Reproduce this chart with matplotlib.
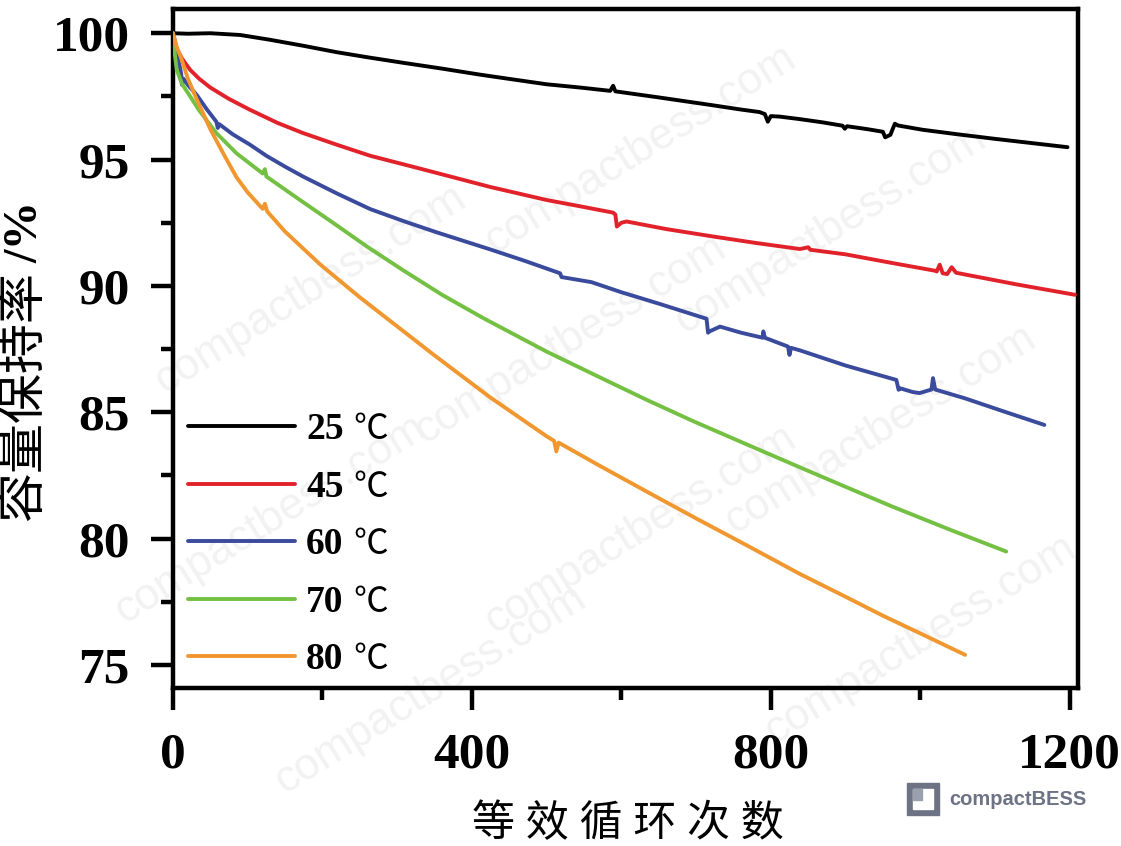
import matplotlib
matplotlib.use("Agg")
import matplotlib.pyplot as plt
from matplotlib.font_manager import FontProperties
from matplotlib.patches import Rectangle
from matplotlib.ticker import MultipleLocator

# data (cycles, capacity retention %)
c25 = [0, 20, 50, 90, 130, 175, 219, 260, 308, 360, 411, 460, 500, 545, 585, 589, 592, 650, 722, 760,
       785, 792, 796, 800, 812, 839, 870, 896, 899, 902, 930, 950, 953, 960, 966, 970, 1003, 1050, 1100,
       1150, 1197]
v25 = [100, 99.98, 100.0, 99.93, 99.74, 99.5, 99.25, 99.05, 98.83, 98.6, 98.36, 98.15, 97.98, 97.85,
       97.72, 97.92, 97.7, 97.46, 97.15, 96.98, 96.88, 96.8, 96.5, 96.72, 96.7, 96.6, 96.47, 96.34, 96.22,
       96.32, 96.2, 96.1, 95.88, 95.98, 96.42, 96.35, 96.18, 96.0, 95.82, 95.65, 95.49]

c45 = [0, 5, 12, 23, 35, 50, 75, 103, 140, 174, 220, 264, 310, 353, 424, 500, 545, 589, 592, 594, 600,
       607, 660, 722, 780, 839, 850, 853, 900, 960, 1020, 1022, 1026, 1030, 1036, 1042, 1048, 1129, 1207]
v45 = [100, 99.4, 99.0, 98.55, 98.2, 97.85, 97.4, 96.97, 96.45, 96.05, 95.58, 95.15, 94.8, 94.47, 93.92,
       93.4, 93.15, 92.9, 92.82, 92.35, 92.5, 92.55, 92.25, 91.96, 91.7, 91.46, 91.53, 91.43, 91.25, 90.92,
       90.6, 90.57, 90.84, 90.5, 90.47, 90.74, 90.52, 90.06, 89.65]

c60 = [0, 5, 9, 11, 12, 14, 20, 32, 45, 58, 60, 62, 80, 103, 125, 150, 174, 220, 264, 310, 353, 424,
       470, 518, 520, 560, 600, 650, 714, 716, 718, 732, 760, 789, 790, 792, 823, 825, 827, 839, 900,
       968, 971, 973, 990, 999, 1015, 1017, 1020, 1060, 1110, 1166]
v60 = [100, 99.2, 98.69, 98.4, 97.96, 98.2, 97.95, 97.55, 97.0, 96.5, 96.25, 96.4, 96.0, 95.59, 95.15,
       94.72, 94.33, 93.65, 93.04, 92.55, 92.12, 91.45, 91.0, 90.5, 90.35, 90.15, 89.75, 89.3, 88.7,
       88.15, 88.2, 88.39, 88.15, 87.95, 88.2, 87.95, 87.6, 87.27, 87.55, 87.45, 86.85, 86.28, 85.89,
       85.95, 85.8, 85.76, 85.9, 86.35, 85.9, 85.55, 85.05, 84.5]

c70 = [0, 2, 5, 12, 23, 35, 58, 85, 120, 123, 125, 170, 219, 260, 308, 360, 415, 500, 570, 634, 696,
       770, 839, 900, 960, 1040, 1115]
v70 = [100, 99.3, 98.55, 98.0, 97.5, 96.95, 96.05, 95.25, 94.45, 94.62, 94.33, 93.4, 92.4, 91.55, 90.62,
       89.65, 88.73, 87.4, 86.4, 85.49, 84.65, 83.7, 82.82, 82.05, 81.3, 80.35, 79.49]

c80 = [0, 5, 10, 20, 32, 50, 67, 85, 100, 120, 123, 126, 150, 197, 250, 300, 350, 424, 500, 510, 513,
       516, 570, 634, 700, 770, 839, 900, 950, 1000, 1060]
v80 = [100, 99.45, 99.1, 98.2, 97.37, 96.2, 95.26, 94.3, 93.7, 93.05, 93.25, 92.95, 92.15, 90.85, 89.55,
       88.4, 87.25, 85.6, 84.05, 83.87, 83.45, 83.8, 82.9, 81.86, 80.8, 79.7, 78.6, 77.7, 76.95, 76.25, 75.4]

series = [(c25, v25, "25", "#000000"),
          (c45, v45, "45", "#e2222b"),
          (c60, v60, "60", "#3a4a9c"),
          (c70, v70, "70", "#74c043"),
          (c80, v80, "80", "#f0972f")]

W, H = 1121, 846
fig = plt.figure(figsize=(W / 100, H / 100), dpi=100)
ax = fig.add_axes([0.1543, 0.1868, 0.8073, 0.8026])

for c, v, lab, col in series:
    ax.plot(c, v, color=col, lw=2.8, label=lab, solid_capstyle="round", solid_joinstyle="round", zorder=3)

ax.set_xlim(0, 1211)
ax.set_ylim(74.09, 100.96)
ax.xaxis.set_major_locator(MultipleLocator(400))
ax.xaxis.set_minor_locator(MultipleLocator(200))
ax.yaxis.set_major_locator(MultipleLocator(5))
ax.yaxis.set_minor_locator(MultipleLocator(2.5))

for s in ax.spines.values():
    s.set_linewidth(3.2)
ax.tick_params(which="major", direction="out", length=16, width=3.2)
ax.tick_params(which="minor", direction="out", length=8.5, width=3.2)
ax.tick_params(axis="x", which="major", pad=16)
ax.tick_params(axis="y", which="major", pad=15)

tick_font = FontProperties(family="Liberation Serif", weight="bold", size=37)
for t in ax.get_xticklabels() + ax.get_yticklabels():
    t.set_fontproperties(tick_font)

cjk = ["Liberation Serif", "Noto Sans CJK SC", "DejaVu Sans"]
ax.set_xlabel("等 效 循 环 次 数", family=cjk, fontsize=31)
ax.xaxis.set_label_coords(0.503, -0.2018)
ax.xaxis.label.set_verticalalignment("center")
ax.set_ylabel("容量保持率", family=cjk, fontsize=36)
ax.yaxis.set_label_coords(-0.1635, 0.43)
ax.yaxis.label.set_verticalalignment("center")
ax.text(-0.1635, 0.671, "/%", transform=ax.transAxes, rotation=90, ha="center", va="center",
        family="Liberation Serif", weight="bold", fontsize=35)

leg = ax.legend(loc="center left", bbox_to_anchor=(0.0166, 0.211), frameon=False,
                prop=FontProperties(family="Liberation Serif", weight="bold", size=27),
                handlelength=2.85, handletextpad=0.3, labelspacing=0.6,
                borderpad=0, borderaxespad=0)

# watermark
marks = [(640, 150), (830, 230), (310, 290), (570, 340), (880, 430), (270, 520), (640, 530),
         (920, 640), (430, 690)]
for x, y in marks:
    ax.text(x / W, 1 - y / H, "compactbess.com", transform=fig.transFigure, rotation=32,
            ha="center", va="center", fontsize=32, color="#f2f2f2", family="Liberation Sans",
            clip_on=False, zorder=0.5)

# logo
fig.add_artist(Rectangle((907 / W, 1 - 815 / H), 32 / W, 32 / H, color="#6d7384", transform=fig.transFigure))
fig.add_artist(Rectangle((913 / W, 1 - 809 / H), 20 / W, 20 / H, color="white", transform=fig.transFigure))
fig.add_artist(Rectangle((913 / W, 1 - 800 / H), 9 / W, 11 / H, color="#9aa0ad", transform=fig.transFigure))
fig.text(949 / W, 1 - 799 / H, "compactBESS", ha="left", va="center", fontsize=14.5,
         color="#6d7384", family="Liberation Sans", weight="bold")

fig.canvas.draw()
r = fig.canvas.get_renderer()
for t in leg.get_texts():
    bb = t.get_window_extent(r)
    fig.text((bb.x1 + 10) / W, (bb.y0 + bb.y1) / 2 / H, "℃", ha="left", va="center",
             fontsize=25, family=["Noto Sans CJK SC", "DejaVu Sans"])

fig.savefig("out.png", dpi=100)
